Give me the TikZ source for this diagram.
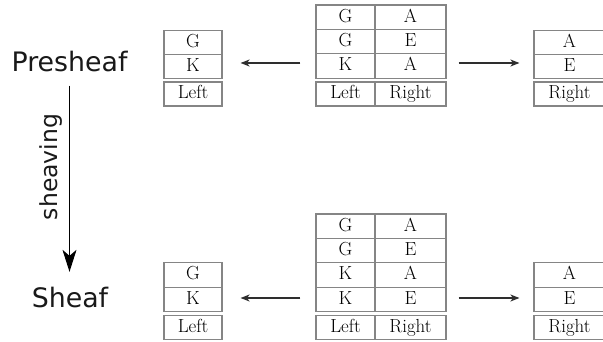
\documentclass[tikz,border=0pt]{standalone}
\usepackage{fontspec}
\newfontfamily\labelfont{DejaVu Sans}
\usetikzlibrary{arrows.meta}
\definecolor{rulegray}{HTML}{858585}
\definecolor{inkgray}{HTML}{2E2E2E}
\tikzset{
  cell/.style={draw=rulegray, line width=1.15pt, inner xsep=0pt, inner ysep=0pt,
    text height=17pt, text depth=7.3pt, align=center,
    font=\fontsize{18.9}{22}\selectfont},
  narrow/.style={cell, minimum width=58pt},
  wide/.style={cell, minimum width=71pt},
  hdr/.style={text height=16.8pt, text depth=7.2pt},
  mapto/.style={draw=inkgray, line width=1.3pt, -{Stealth[length=9pt,width=7pt,inset=2.5pt]}},
  sheafarrow/.style={draw=black, line width=1.1pt, -{Stealth[length=22pt,width=14pt,inset=6pt]}},
  stage/.style={font=\labelfont\fontsize{26.8}{30}\selectfont, inner sep=0pt, text=black!90},
}
\begin{document}
\begin{tikzpicture}[x=1pt, y=-1pt]
  \useasboundingbox (0,0) rectangle (603,342);

  % stage labels and the sheaving step
  \node[stage, anchor=base] (pre) at (69.5,72) {Presheaf};
  \node[stage, anchor=base] (sh) at (70,307) {Sheaf};
  \draw[sheafarrow, shorten <=13pt, shorten >=14.6pt] (pre.south) -- (pre.south |- sh.north);
  \node[rotate=90, inner sep=0pt, font=\labelfont\fontsize{23.5}{26}\selectfont, text=black!90]
    (shv) at (51,167) {sheaving};

  % ---------- presheaf row ----------
  % restriction to Left
  \node[narrow] (pl1) at (193,42.35) {G};
  \node[narrow] (pl2) at (193,66.65) {K};
  \node[narrow, hdr] (plh) at (193,94) {Left};
  % the whole table
  \node[narrow, minimum width=59pt] (pm1a) at (345.5,17.2) {G};
  \node[wide] (pm1b) at (410.5,17.2) {A};
  \node[narrow, minimum width=59pt] (pm2a) at (345.5,41.6) {G};
  \node[wide] (pm2b) at (410.5,41.6) {E};
  \node[narrow, minimum width=59pt] (pm3a) at (345.5,66) {K};
  \node[wide] (pm3b) at (410.5,66) {A};
  \node[narrow, minimum width=59pt, hdr] (pmha) at (345.5,94) {Left};
  \node[wide, hdr] (pmhb) at (410.5,94) {Right};
  % restriction to Right
  \node[wide] (pr1) at (569.5,42.35) {A};
  \node[wide] (pr2) at (569.5,66.65) {E};
  \node[wide, hdr] (prh) at (569.5,94) {Right};

  \draw[mapto, shorten <=15pt, shorten >=18pt]
    ([yshift=3pt]pm3a.west) -- ([yshift=3pt]pm3a.west -| pl2.east);
  \draw[mapto, shorten <=12pt, shorten >=14pt]
    ([yshift=3pt]pm3b.east) -- ([yshift=3pt]pm3b.east -| pr2.west);

  % ---------- sheaf row ----------
  \node[narrow] (sl1) at (193,275) {G};
  \node[narrow] (sl2) at (193,299.4) {K};
  \node[narrow, hdr] (slh) at (193,327.7) {Left};
  \node[narrow, minimum width=59pt] (sm1a) at (345.5,226.2) {G};
  \node[wide] (sm1b) at (410.5,226.2) {A};
  \node[narrow, minimum width=59pt] (sm2a) at (345.5,250.6) {G};
  \node[wide] (sm2b) at (410.5,250.6) {E};
  \node[narrow, minimum width=59pt] (sm3a) at (345.5,275) {K};
  \node[wide] (sm3b) at (410.5,275) {A};
  \node[narrow, minimum width=59pt] (sm4a) at (345.5,299.4) {K};
  \node[wide] (sm4b) at (410.5,299.4) {E};
  \node[narrow, minimum width=59pt, hdr] (smha) at (345.5,327.7) {Left};
  \node[wide, hdr] (smhb) at (410.5,327.7) {Right};
  \node[wide] (sr1) at (569.5,275) {A};
  \node[wide] (sr2) at (569.5,299.4) {E};
  \node[wide, hdr] (srh) at (569.5,327.7) {Right};

  \draw[mapto, shorten <=15pt, shorten >=18pt]
    ([yshift=1.4pt]sm4a.west) -- ([yshift=1.4pt]sm4a.west -| sl2.east);
  \draw[mapto, shorten <=12pt, shorten >=14pt]
    ([yshift=1.4pt]sm4b.east) -- ([yshift=1.4pt]sm4b.east -| sr2.west);
\end{tikzpicture}
\end{document}
